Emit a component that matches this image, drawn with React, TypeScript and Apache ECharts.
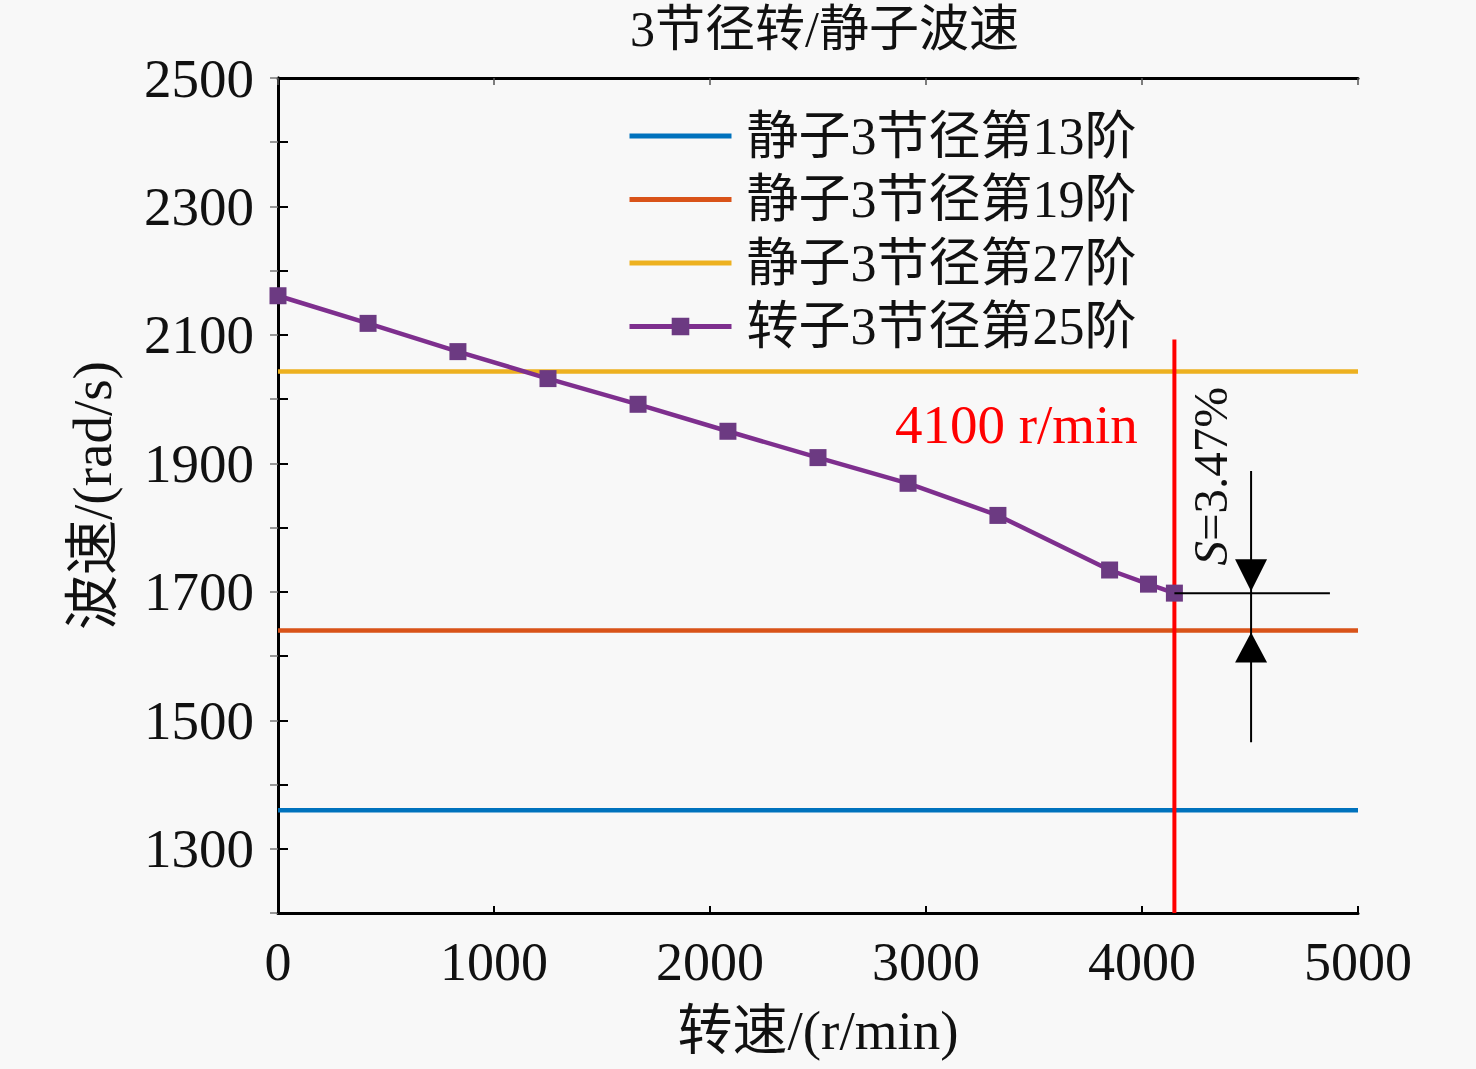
import React, { useEffect, useRef } from "react";
import * as echarts from "echarts";

const titleText = "3节径转/静子波速";
const xName = "转速/(r/min)";
const yName = "波速/(rad/s)";
const seriesNames = ["静子3节径第13阶", "静子3节径第19阶", "静子3节径第27阶", "转子3节径第25阶"];
const stator13 = 1360;
const stator19 = 1640;
const stator27 = 2043;
const rotorSpeed = [0, 417, 833, 1250, 1667, 2083, 2500, 2917, 3333, 3850, 4030, 4150];
const rotorWave = [2161, 2118, 2074, 2032, 1992, 1950, 1909, 1869, 1819, 1734, 1712, 1698];
const redLineX = 4150;
const redLineTop = 2093;
const redLabel = "4100 r/min";
const sLabel = "{i|S}=3.47%";
const xMin = 0, xMax = 5000, xStep = 1000;
const yMin = 1200, yMax = 2500, yStep = 100;

const FONT = "'Liberation Serif', 'Noto Sans CJK SC', serif";
const COLORS = ["#0072bd", "#d95319", "#edb120", "#7e2f8e"];

export default function App() {
  const ref = useRef<HTMLDivElement>(null);
  useEffect(() => {
    const chart = echarts.init(ref.current!, null, { renderer: "svg" });
    const flat = (v: number) => [[xMin, v], [xMax, v]];
    const option: any = {
      animation: false,
      backgroundColor: "#f8f8f8",
      textStyle: { fontFamily: FONT },
      grid: { left: 278, right: 118, top: 78, bottom: 156, containLabel: false },
      legend: {
        data: seriesNames.map((n, i) => ({
          name: n,
          itemStyle: i < 3 ? { opacity: 0 } : { color: "#6c3a82" },
          lineStyle: { width: 5, color: COLORS[i] },
        })),
        orient: "vertical",
        left: 622,
        top: 104,
        itemWidth: 102,
        itemHeight: 22,
        itemGap: 9.5,
        textStyle: { fontSize: 52, fontFamily: FONT, color: "#111", lineHeight: 54, padding: [0, 0, 0, 10] },
      },
      xAxis: [
        {
          type: "value", min: xMin, max: xMax, interval: xStep,
          name: xName, nameLocation: "middle", nameGap: 90,
          nameTextStyle: { fontSize: 55, fontFamily: FONT, color: "#111" },
          axisLine: { lineStyle: { color: "#000", width: 3 } },
          axisTick: { inside: true, length: 7, lineStyle: { color: "#000", width: 2 } },
          axisLabel: { fontSize: 54, fontFamily: FONT, color: "#111", margin: 22, formatter: (v: number) => String(v) },
          splitLine: { show: false },
        },
        {
          type: "value", min: xMin, max: xMax, interval: xStep, position: "top",
          axisLine: { lineStyle: { color: "#000", width: 3 } },
          axisTick: { inside: true, length: 7, lineStyle: { color: "#555", width: 1.5 } },
          axisLabel: { show: false },
          splitLine: { show: false },
        },
      ],
      yAxis: [
        {
          type: "value", min: yMin, max: yMax, interval: yStep,
          name: yName, nameLocation: "middle", nameGap: 158,
          nameTextStyle: { fontSize: 55, fontFamily: FONT, color: "#111" },
          axisLine: { lineStyle: { color: "#000", width: 3 } },
          axisTick: { inside: true, length: 10, lineStyle: { color: "#000", width: 2 } },
          axisLabel: {
            fontSize: 55, fontFamily: FONT, color: "#111", margin: 24,
            formatter: (v: number) => (v % 200 === 100 ? String(v) : ""),
          },
          splitLine: { show: false },
        },
        {
          type: "value", min: yMin, max: yMax, interval: yStep, position: "right",
          axisLine: { lineStyle: { color: "#000", width: 3 } },
          axisTick: { inside: true, length: 8, lineStyle: { color: "#777", width: 1.5 } },
          axisLabel: { show: false },
          splitLine: { show: false },
        },
      ],
      series: [
        { name: seriesNames[0], type: "line", data: flat(stator13), symbol: "none", lineStyle: { color: COLORS[0], width: 4.5 }, itemStyle: { color: COLORS[0] }, z: 2 },
        { name: seriesNames[1], type: "line", data: flat(stator19), symbol: "none", lineStyle: { color: COLORS[1], width: 4.5 }, itemStyle: { color: COLORS[1] }, z: 2 },
        { name: seriesNames[2], type: "line", data: flat(stator27), symbol: "none", lineStyle: { color: COLORS[2], width: 4.5 }, itemStyle: { color: COLORS[2] }, z: 2 },
        {
          name: "redline", type: "line", data: [[redLineX, redLineTop], [redLineX, yMin]],
          symbol: "none", lineStyle: { color: "#ff0000", width: 4 }, z: 3, silent: true,
        },
        {
          name: seriesNames[3], type: "line",
          data: rotorSpeed.map((x, i) => [x, rotorWave[i]]),
          symbol: "rect", symbolSize: 17, showAllSymbol: true,
          lineStyle: { color: COLORS[3], width: 4.5 }, itemStyle: { color: "#6c3a82" }, z: 4,
        },
      ],
    };
    chart.setOption(option);

    const p = (x: number, y: number) => chart.convertToPixel({ xAxisIndex: 0, yAxisIndex: 0 }, [x, y]) as number[];
    const arrowX = 4505;
    const a1 = p(arrowX, rotorWave[rotorWave.length - 1]);
    const a2 = p(arrowX, stator19);
    const vTop = p(arrowX, 1888);
    const vBot = p(arrowX, 1466);
    const hL = p(redLineX, rotorWave[rotorWave.length - 1]);
    const hR = p(4870, rotorWave[rotorWave.length - 1]);
    const sPos = p(4315, 1880);
    const rPos = p(2856, 1961);
    const tPos = p(2530, yMax);

    chart.setOption({
      graphic: [
        {
          type: "text", x: tPos[0], y: 4,
          style: { text: titleText, font: `50px ${FONT}`, fill: "#111", textAlign: "center", textVerticalAlign: "top" },
        },
        {
          type: "line", shape: { x1: hL[0], y1: hL[1], x2: hR[0], y2: hR[1] },
          style: { stroke: "#000", lineWidth: 2 }, z: 10,
        },
        {
          type: "line", shape: { x1: vTop[0], y1: vTop[1], x2: vBot[0], y2: vBot[1] },
          style: { stroke: "#000", lineWidth: 2 }, z: 10,
        },
        {
          type: "polygon",
          shape: { points: [[a1[0], a1[1] - 2], [a1[0] - 16, a1[1] - 34], [a1[0] + 16, a1[1] - 34]] },
          style: { fill: "#000" }, z: 10,
        },
        {
          type: "polygon",
          shape: { points: [[a2[0], a2[1] + 2], [a2[0] - 16, a2[1] + 32], [a2[0] + 16, a2[1] + 32]] },
          style: { fill: "#000" }, z: 10,
        },
        {
          type: "text", x: sPos[0], y: sPos[1], rotation: Math.PI / 2,
          style: {
            text: sLabel, font: `49px ${FONT}`, fill: "#111", textAlign: "center", textVerticalAlign: "middle",
            rich: { i: { fontStyle: "italic", fontSize: 49, fontFamily: FONT } },
          },
          z: 10,
        },
        {
          type: "text", x: rPos[0], y: rPos[1],
          style: { text: redLabel, font: `55px ${FONT}`, fill: "#ff0000", textAlign: "left", textVerticalAlign: "middle" },
          z: 10,
        },
      ],
    });
    return () => chart.dispose();
  }, []);
  return <div ref={ref} style={{ position: "absolute", left: 0, top: 0, width: 1476, height: 1069 }} />;
}
